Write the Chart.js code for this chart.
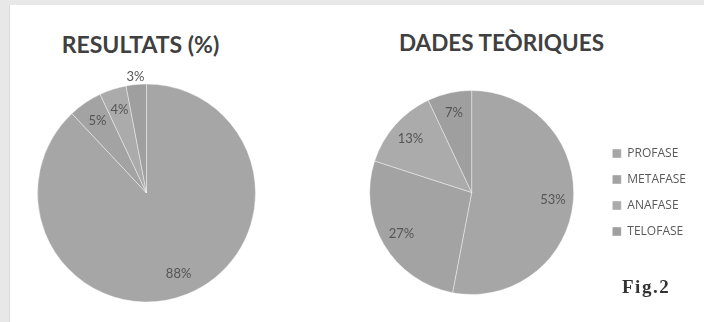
<!DOCTYPE html>
<html lang="ca">
<head>
<meta charset="UTF-8">
<title>Fases de la mitosi</title>
<script src="https://cdn.jsdelivr.net/npm/chart.js@4.4.0/dist/chart.umd.min.js"></script>
<style>
    body{ margin:0; width:704px; height:322px; overflow:hidden; position:relative; background:#e8e8e8; }
    #panel{ position:absolute; left:10px; top:5px; right:0; bottom:0; background:#fff; box-shadow:-1px 0 0 #dadada; }
    #chart1{ position:absolute; left:0; top:0; }
    #chart2{ position:absolute; left:300px; top:0; }
    .titol{ position:absolute; width:300px; margin-left:-150px; text-align:center; line-height:1;
            font-family:Lato, sans-serif; font-weight:bold; color:#404040; white-space:nowrap; }
    #titol1{ left:140.5px; top:33px; font-size:23px; }
    #titol2{ left:501.5px; top:31.5px; font-size:22.5px; }
    #fig{ position:absolute; left:622px; top:276px; font:bold 19px "Liberation Serif", serif; color:#333; letter-spacing:1.5px; }
</style>
</head>
<body>
<div id="panel"></div>
<div class="titol" id="titol1">RESULTATS (%)</div>
<div class="titol" id="titol2">DADES TEÒRIQUES</div>
<canvas id="chart1" width="293" height="322"></canvas>
<canvas id="chart2" width="404" height="322"></canvas>
<div id="fig">Fig.2</div>
<script>
    // fases de la mitosi
    const fases = ['PROFASE', 'METAFASE', 'ANAFASE', 'TELOFASE'];
    const resultats = [88, 5, 4, 3];   // % comptat al microscopi
    const teoriques = [53, 27, 13, 7]; // % teòric
    const grisos = ['#a6a6a6', '#a3a3a3', '#ababab', '#9f9f9f'];

    // etiquetes de percentatge dins de cada porció (les molt petites, a fora)
    const etiquetes = {
        id: 'etiquetes',
        afterDatasetsDraw(chart) {
            const ctx = chart.ctx;
            const ds = chart.data.datasets[0];
            ctx.save();
            ctx.font = '13px Lato';
            ctx.fillStyle = '#555';
            ctx.textAlign = 'center';
            ctx.textBaseline = 'middle';
            chart.getDatasetMeta(0).data.forEach((arc, i) => {
                const p = arc.getProps(['x', 'y', 'startAngle', 'endAngle', 'outerRadius'], true);
                const mig = (p.startAngle + p.endAngle) / 2;
                const f = ds.data[i] < 3.5 ? 1.07 : 0.8;
                ctx.fillText(ds.data[i] + '%', p.x + Math.cos(mig) * p.outerRadius * f, p.y + Math.sin(mig) * p.outerRadius * f);
            });
            ctx.restore();
        }
    };

    const vora = 'rgba(255,255,255,0.4)';

    new Chart(document.getElementById('chart1'), {
        type: 'pie',
        data: {
            labels: fases,
            datasets: [{ data: resultats, backgroundColor: grisos, borderColor: vora, borderWidth: 1 }]
        },
        options: {
            responsive: false,
            animation: false,
            layout: { padding: { top: 83.5, bottom: 19.5 } },
            plugins: {
                legend: { display: false },
                tooltip: { enabled: false }
            }
        },
        plugins: [etiquetes]
    });

    new Chart(document.getElementById('chart2'), {
        type: 'pie',
        data: {
            labels: fases,
            datasets: [{ data: teoriques, backgroundColor: grisos, borderColor: vora, borderWidth: 1 }]
        },
        options: {
            responsive: false,
            animation: false,
            layout: { padding: { left: 45, right: 8, top: 90, bottom: 27 } },
            plugins: {
                tooltip: { enabled: false },
                legend: {
                    position: 'right',
                    labels: { boxWidth: 9, boxHeight: 9, padding: 14, color: '#595959', font: { family: 'Open Sans', size: 12 } }
                }
            }
        },
        plugins: [etiquetes]
    });
</script>
</body>
</html>
